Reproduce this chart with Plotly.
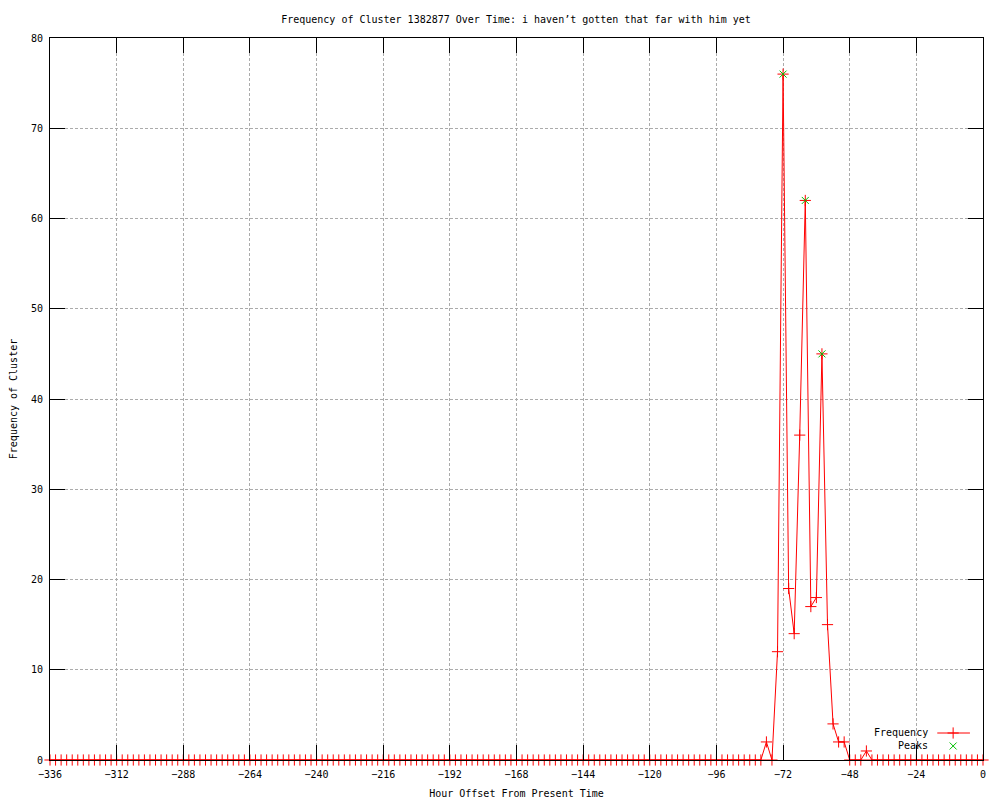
import plotly.graph_objects as go

# Data (hour offsets every 2 hours, from -336 to 0)
hours = list(range(-336, 1, 2))
frequency = [
    # -336 .. -290
    0, 0, 0, 0, 0, 0, 0, 0, 0, 0, 0, 0, 0, 0, 0, 0, 0, 0, 0, 0, 0, 0, 0, 0,
    # -288 .. -242
    0, 0, 0, 0, 0, 0, 0, 0, 0, 0, 0, 0, 0, 0, 0, 0, 0, 0, 0, 0, 0, 0, 0, 0,
    # -240 .. -194
    0, 0, 0, 0, 0, 0, 0, 0, 0, 0, 0, 0, 0, 0, 0, 0, 0, 0, 0, 0, 0, 0, 0, 0,
    # -192 .. -146
    0, 0, 0, 0, 0, 0, 0, 0, 0, 0, 0, 0, 0, 0, 0, 0, 0, 0, 0, 0, 0, 0, 0, 0,
    # -144 .. -98
    0, 0, 0, 0, 0, 0, 0, 0, 0, 0, 0, 0, 0, 0, 0, 0, 0, 0, 0, 0, 0, 0, 0, 0,
    # -96 .. -50
    0, 0, 0, 0, 0, 0, 0, 0, 0, 2, 0, 12, 76, 19, 14, 36, 62, 17, 18, 45, 15, 4, 2, 2,
    # -48 .. 0
    0, 0, 0, 1, 0, 0, 0, 0, 0, 0, 0, 0, 0, 0, 0, 0, 0, 0, 0, 0, 0, 0, 0, 0, 0,
]
peak_hours = [-72, -64, -58]
peak_values = [76, 62, 45]

x_ticks = list(range(-336, 1, 24))
y_ticks = list(range(0, 81, 10))

FONT = "DejaVu Sans Mono"
RED = "#ff0000"
GREEN = "#00c000"

fig = go.Figure()

fig.add_trace(go.Scatter(
    x=hours, y=frequency, mode="lines+markers", name="Frequency",
    line=dict(color=RED, width=1),
    marker=dict(symbol="cross-thin", size=8, color=RED, line=dict(color=RED, width=1)),
    cliponaxis=False, showlegend=False,
))
fig.add_trace(go.Scatter(
    x=peak_hours, y=peak_values, mode="markers", name="Peaks",
    marker=dict(symbol="x-thin", size=7, color=GREEN, line=dict(color=GREEN, width=1)),
    cliponaxis=False, showlegend=False,
))

# Legend samples on an overlay axis (0..1 coordinates over the plot area)
fig.add_trace(go.Scatter(
    x=[0.951, 0.986], y=[0.0374, 0.0374], mode="lines",
    line=dict(color=RED, width=1), xaxis="x2", yaxis="y2", showlegend=False,
    hoverinfo="skip",
))
fig.add_trace(go.Scatter(
    x=[0.968], y=[0.0374], mode="markers",
    marker=dict(symbol="cross-thin", size=8, color=RED, line=dict(color=RED, width=1)),
    xaxis="x2", yaxis="y2", showlegend=False, hoverinfo="skip",
))
fig.add_trace(go.Scatter(
    x=[0.968], y=[0.0194], mode="markers",
    marker=dict(symbol="x-thin", size=7, color=GREEN, line=dict(color=GREEN, width=1)),
    xaxis="x2", yaxis="y2", showlegend=False, hoverinfo="skip",
))

axis_common = dict(
    showline=True, linecolor="black", linewidth=1, mirror="ticks",
    ticks="inside", ticklen=15, tickwidth=1, tickcolor="black",
    showgrid=True, gridcolor="#ababab", griddash="3px,2px", gridwidth=1,
    zeroline=False, automargin=False,
    tickfont=dict(family=FONT, size=10, color="black"),
)

fig.update_layout(
    width=1000, height=800,
    paper_bgcolor="white", plot_bgcolor="white",
    margin=dict(l=42, r=25, t=30, b=48),
    title=dict(
        text="Frequency of Cluster 1382877 Over Time: i haven\u2019t gotten that far with him yet",
        x=0.508, xanchor="center", y=0.986, yanchor="middle",
        font=dict(family=FONT, size=10, color="black"),
    ),
    xaxis=dict(
        range=[-336, 0], tickvals=x_ticks, ticklabelstandoff=5, **axis_common,
        title=dict(text="Hour Offset From Present Time", standoff=10,
                   font=dict(family=FONT, size=10, color="black")),
    ),
    yaxis=dict(
        range=[0, 80], tickvals=y_ticks, ticklabelstandoff=4, **axis_common,
        title=dict(text="Frequency of Cluster", standoff=13,
                   font=dict(family=FONT, size=10, color="black")),
    ),
    xaxis2=dict(range=[0, 1], overlaying="x", visible=False, fixedrange=True),
    yaxis2=dict(range=[0, 1], overlaying="y", visible=False, fixedrange=True),
    showlegend=False,
    annotations=[
        dict(text="Frequency", xref="paper", yref="paper", x=0.943, y=0.0374,
             xanchor="right", yanchor="middle", showarrow=False,
             font=dict(family=FONT, size=10, color="black")),
        dict(text="Peaks", xref="paper", yref="paper", x=0.943, y=0.0194,
             xanchor="right", yanchor="middle", showarrow=False,
             font=dict(family=FONT, size=10, color="black")),
    ],
)

fig.write_html("out.html")
